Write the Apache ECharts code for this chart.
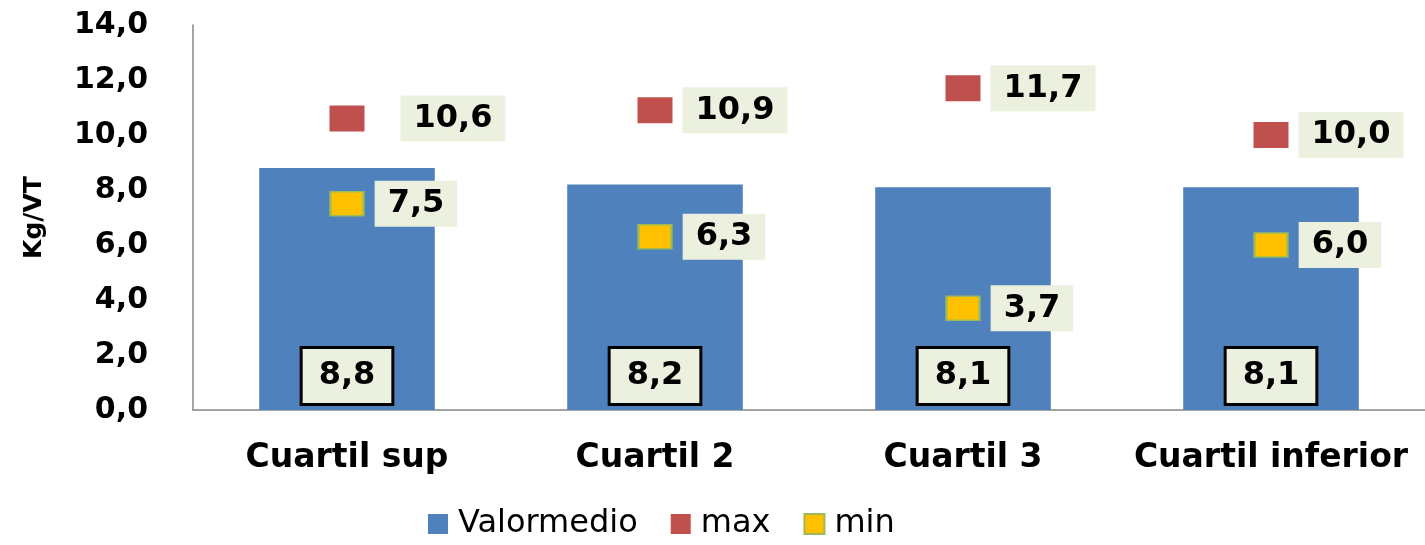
<!DOCTYPE html>
<html>
<head>
<meta charset="utf-8">
<script src="https://cdn.jsdelivr.net/npm/echarts@6/dist/echarts.min.js"></script>
<style>
  html, body { margin: 0; padding: 0; background: #fff; }
  #chart { width: 1425px; height: 545px; }
</style>
</head>
<body>
<div id="chart"></div>
<script>
const categories = ['Cuartil sup', 'Cuartil 2', 'Cuartil 3', 'Cuartil inferior'];
const valorMedio = [8.8, 8.2, 8.1, 8.1];
const maxValues = [10.6, 10.9, 11.7, 10.0];
const minValues = [7.5, 6.3, 3.7, 6.0];
const yTicks = [0, 2, 4, 6, 8, 10, 12, 14];

const chart = echarts.init(document.getElementById('chart'));

const fmt = (v) => v.toFixed(1).replace('.', ',');
const font = 'DejaVu Sans';

const pointLabel = {
  show: true,
  position: 'right',
  distance: 10,
  formatter: (p) => fmt(p.value),
  fontFamily: font,
  fontWeight: 'bold',
  fontSize: 32,
  color: '#000',
  backgroundColor: '#EBF1DE',
  padding: [7, 13]
};

const option = {
  animation: false,
  grid: { left: 193, width: 1236, top: 25, bottom: 135 },
  legend: {
    left: 423,
    bottom: 0,
    icon: 'rect',
    itemWidth: 20,
    itemHeight: 20,
    itemGap: 33,
    textStyle: { fontFamily: font, fontSize: 32, color: '#000', padding: [0, 0, 0, 5] },
    data: ['Valormedio', 'max', 'min']
  },
  xAxis: {
    type: 'category',
    data: categories,
    axisLine: { lineStyle: { color: '#868686', width: 1.5 } },
    axisTick: { show: false },
    axisLabel: { interval: 0, fontFamily: font, fontWeight: 'bold', fontSize: 33, color: '#000', margin: 32 }
  },
  yAxis: {
    type: 'value',
    min: yTicks[0],
    max: yTicks[yTicks.length - 1],
    interval: 2,
    name: 'Kg/VT',
    nameLocation: 'middle',
    nameGap: 146,
    nameRotate: 90,
    nameTextStyle: { fontFamily: font, fontWeight: 'bold', fontSize: 25, color: '#000' },
    axisLine: { show: true, lineStyle: { color: '#868686', width: 1.5 } },
    axisTick: { show: false },
    splitLine: { show: false },
    axisLabel: { fontFamily: font, fontWeight: 'bold', fontSize: 30, color: '#000', margin: 45, formatter: fmt }
  },
  series: [
    {
      name: 'Valormedio',
      type: 'bar',
      data: valorMedio,
      barWidth: '57%',
      itemStyle: { color: '#4F81BD' },
      label: {
        show: true,
        position: 'insideBottom',
        distance: 7,
        formatter: (p) => fmt(p.value),
        fontFamily: font,
        fontWeight: 'bold',
        fontSize: 32,
        color: '#000',
        backgroundColor: '#EBF1DE',
        borderColor: '#000',
        borderWidth: 3,
        padding: [11, 16]
      }
    },
    {
      name: 'max',
      type: 'scatter',
      symbol: 'rect',
      symbolSize: [35, 26],
      itemStyle: { color: '#C0504D', opacity: 1 },
      label: pointLabel,
      data: maxValues.map((v, i) => i === 0 ? { value: v, label: { offset: [26, 0] } } : v)
    },
    {
      name: 'min',
      type: 'scatter',
      symbol: 'rect',
      symbolSize: [33, 24],
      itemStyle: { color: '#FFC000', borderColor: '#9BBB59', borderWidth: 2, opacity: 1 },
      label: pointLabel,
      data: minValues
    }
  ]
};

chart.setOption(option);
</script>
</body>
</html>
